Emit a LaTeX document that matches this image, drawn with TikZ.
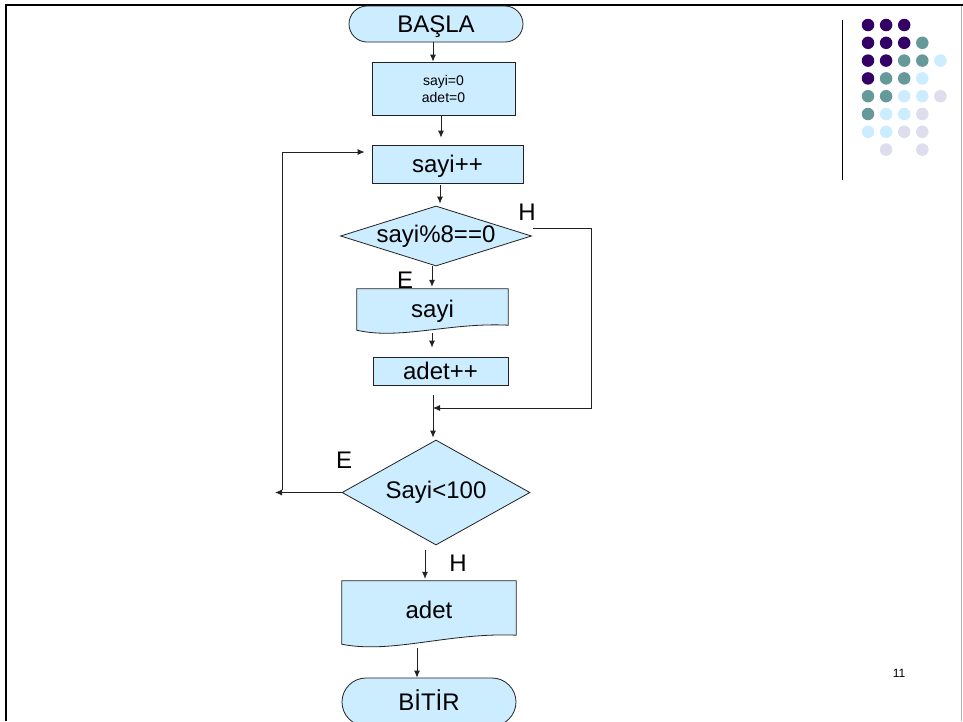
\documentclass[tikz,border=0pt]{standalone}
\usepackage{fontspec}
\setmainfont{Liberation Sans}
\usetikzlibrary{shapes.geometric,shapes.misc,arrows.meta,calc}

\definecolor{boxfill}{HTML}{CCECFF}
\definecolor{dotA}{HTML}{330066}
\definecolor{dotB}{HTML}{669999}
\definecolor{dotC}{HTML}{CCECFF}
\definecolor{dotD}{HTML}{DDDDEE}
\definecolor{edge}{HTML}{222222}

\tikzset{
  base/.style={draw=edge, line width=0.8pt, fill=boxfill, inner sep=0pt,
    font=\fontsize{24}{28}\selectfont},
  lined/.style={text height=21.7pt, text depth=5.1pt},
  terminal/.style={base, lined, rounded rectangle, minimum width=174pt, minimum height=36pt},
  procbox/.style={base, lined, rectangle},
  decision/.style={base, diamond},
  docbox/.style={rectangle, inner sep=0pt},
  docline/.style={draw=edge, line width=0.8pt, fill=boxfill},
  doctext/.style={inner sep=0pt, lined, font=\fontsize{24}{28}\selectfont},
  arr/.style={draw=edge, line width=0.8pt, -{Latex[length=7pt,width=6pt]}},
  lbl/.style={inner sep=0pt, font=\fontsize{24}{28}\selectfont},
  dot/.style={circle, inner sep=0pt, minimum size=12.5pt},
}

\begin{document}
\begin{tikzpicture}[x=1pt, y=-1pt]
\useasboundingbox (0,0) rectangle (963,721);
\clip (0,0) rectangle (963,721);
\fill[white] (0,0) rectangle (963,721);

% slide frame
\draw[gray!60, line width=1pt] (961.5,5) -- (961.5,721);
\draw[black, line width=2.6pt] (6,721) -- (6,5) -- (963,5);

% decorative dot grid with its rule
\draw[black, line width=1pt] (842,20) -- (842,180);
\foreach \r/\cols in {0/{A,A,A},1/{A,A,A,B},2/{A,A,B,B,C},3/{A,B,B,C},
                      4/{B,B,C,C,D},5/{B,C,C,D},6/{C,C,D,D}}{
  \foreach \c [count=\i from 0] in \cols{
    \node[dot, fill=dot\c] (g\r\i) at ({868+18.1*\i},{25+17.8*\r}) {};
  }
}
\node[dot, fill=dotD] (g71) at (886.1,149.6) {};
\node[dot, fill=dotD] (g73) at (922.3,149.6) {};

% page number
\node[inner sep=0pt, font=\fontsize{12}{14}\selectfont] (pg) at (899,673) {11};

% flowchart nodes
\node[terminal] (start) at (436,24) {BAŞLA};
\node[draw=edge, line width=0.8pt, fill=boxfill, inner sep=0pt,
      minimum width=143pt, minimum height=53pt, align=center,
      font=\fontsize{14}{17}\selectfont] (init) at (443.5,88.5) {sayi=0\\adet=0};
\node[procbox, minimum width=151pt, minimum height=38pt] (inc) at (447.5,164) {sayi++};
\node[decision, minimum width=191pt, minimum height=60pt, aspect=3.2] (d1) at (436,236) {sayi\%8==0};

% output document: sayi
\node[docbox, minimum width=151pt, minimum height=36pt] (out1) at (432.5,307) {};
\path[docline] (out1.north west) -- (out1.north east) -- (out1.south east)
  .. controls +(-58,-3) and +(43,10) .. ($(out1.south west)+(0,5)$) -- cycle;
\node[doctext] (out1t) at (432.5,309) {sayi};

\node[procbox, minimum width=135pt, minimum height=28pt] (cnt) at (440.5,371) {adet++};
\node[decision, minimum width=188pt, minimum height=105pt, aspect=1.8] (d2) at (436,492.5) {Sayi<100};

% output document: adet
\node[docbox, minimum width=174pt, minimum height=54pt] (out2) at (429,608) {};
\path[docline] (out2.north west) -- (out2.north east) -- (out2.south east)
  .. controls +(-67,-3) and +(50,10) .. ($(out2.south west)+(0,9)$) -- cycle;
\node[doctext] (out2t) at (429,610) {adet};

\node[terminal, minimum height=48pt] (stop) at (429,702) {BİTİR};

% connectors
\coordinate (rightTurn) at (591,228);
\coordinate (join) at (433,408);
\coordinate (joinTop) at (433,395);
\coordinate (loopTop) at (282,152);
\coordinate (loopBot) at (282,490);
\coordinate (loopEnd) at (275,492.5);

\draw[arr] ([xshift=-3pt]start.south) -- ([xshift=-3pt]start.south |- init.north);
\draw[arr, shorten >=7pt] (init.south -| 441,0) -- (inc.north -| 441,0);
\draw[arr, shorten >=2pt, shorten <=2pt] (inc.south -| 440,0) -- (d1.north -| 440,0);
\draw[arr, shorten >=2pt] (d1.south -| 432,0) -- (out1.north -| 432,0);
\draw[arr, shorten >=9pt] (432,333) -- (cnt.north -| 432,0);
\draw[arr] ([shift={(1,-8)}]d1.east) -- (rightTurn) |- (join);
\draw[arr, shorten >=2pt] (joinTop) -- (joinTop |- d2.north);
\draw[arr] (d2.west) -- (loopEnd);
\draw[arr, shorten >=7pt] (loopBot) -- (loopTop) -- (loopTop -| inc.west);
\draw[arr, shorten >=2pt] (425,550) -- (out2.north -| 425,0);
\draw[arr] (417,648) -- (stop.north -| 417,0);

% branch labels
\node[lbl] (lH1) at (527,212) {H};
\node[lbl] (lE1) at (405,280) {E};
\node[lbl] (lE2) at (344,460) {E};
\node[lbl] (lH2) at (458,563) {H};
\end{tikzpicture}
\end{document}
